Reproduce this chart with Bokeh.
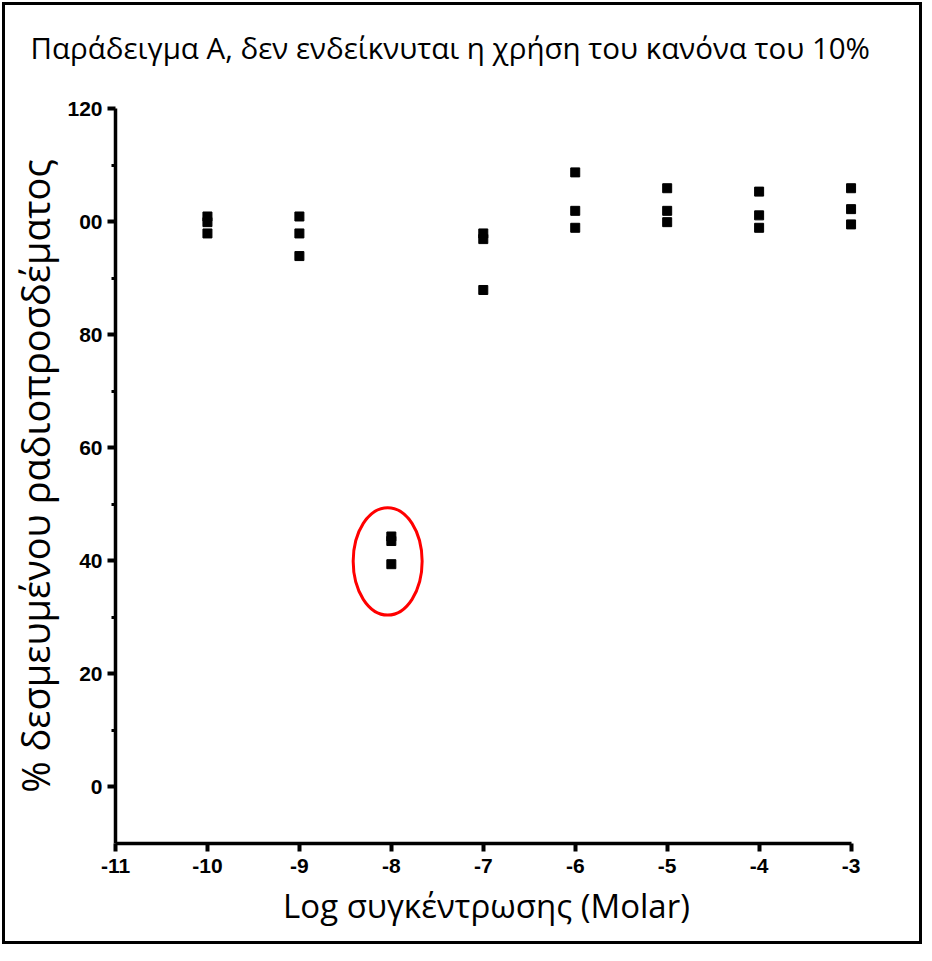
from bokeh.plotting import figure
from bokeh.models import Range1d, FixedTicker, ColumnDataSource, Title
from bokeh.embed import file_html
from bokeh.resources import INLINE

# ---- data ----
log_conc = [-10, -10, -10, -9, -9, -9, -8, -8, -8, -7, -7, -7,
            -6, -6, -6, -5, -5, -5, -4, -4, -4, -3, -3, -3]
pct_bound = [100.9, 99.9, 97.9, 100.9, 97.9, 93.9, 44.3, 43.5, 39.4,
             97.9, 96.9, 87.9, 108.7, 101.9, 98.9, 105.9, 101.9, 99.9,
             105.3, 101.1, 98.9, 105.9, 102.2, 99.5]
outlier_x = [-8.04]
outlier_y = [39.9]
x_ticks = [-11, -10, -9, -8, -7, -6, -5, -4, -3]
x_tick_labels = {-11: "-11", -10: "-10", -9: "-9", -8: "-8", -7: "-7",
                 -6: "-6", -5: "-5", -4: "-4", -3: "-3"}
y_ticks = [0, 20, 40, 60, 80, 100, 120]
y_minor = [10, 30, 50, 70, 90, 110]
y_tick_labels = {0: "0", 20: "20", 40: "40", 60: "60", 80: "80", 100: "00", 120: "120"}

title_text = "Παράδειγμα Α, δεν ενδείκνυται η χρήση του κανόνα του 10%"
x_label = "Log συγκέντρωσης (Molar)"
y_label = "% δεσμευμένου ραδιοπροσδέματος"

p = figure(frame_width=742, frame_height=735,
           min_border_left=110, min_border_right=62,
           min_border_top=103, min_border_bottom=98,
           x_range=Range1d(-11, -2.93), y_range=Range1d(-10, 120),
           output_backend="svg", toolbar_location=None)

p.styles = {"border": "3px solid black", "margin-left": "2px", "margin-top": "2px"}

p.background_fill_color = "white"
p.border_fill_color = "white"
p.outline_line_color = None
p.xgrid.visible = False
p.ygrid.visible = False

# title: a small blank spacer next to the frame, the real title outside it
spacer = Title(text=" ", text_font_size="10px", standoff=5)
p.add_layout(spacer, "above")
main_title = Title(text=title_text, text_font="Open Sans", text_font_size="29.5px",
                   text_font_style="normal", text_color="black",
                   align="left", vertical_align="top", offset=-85, standoff=42)
p.add_layout(main_title, "above")

for ax in (p.xaxis[0], p.yaxis[0]):
    ax.axis_line_width = 3.5
    ax.axis_line_color = "black"
    ax.major_tick_line_width = 4
    ax.major_tick_line_color = "black"
    ax.major_tick_in = 0
    ax.major_tick_out = 8
    ax.major_label_text_font = "Liberation Sans"
    ax.major_label_text_font_style = "bold"
    ax.major_label_text_font_size = "21px"
    ax.major_label_text_color = "black"
    ax.axis_label_text_font = "Open Sans"
    ax.axis_label_text_font_style = "normal"
    ax.axis_label_text_color = "black"

p.xaxis[0].ticker = FixedTicker(ticks=x_ticks)
p.xaxis[0].bounds = (-11, -3)
p.xaxis[0].major_label_overrides = x_tick_labels
p.xaxis[0].minor_tick_line_color = None
p.xaxis[0].major_label_standoff = 7
p.xaxis[0].axis_label = x_label
p.xaxis[0].axis_label_text_font_size = "33px"
p.xaxis[0].axis_label_standoff = 7

p.yaxis[0].ticker = FixedTicker(ticks=y_ticks, minor_ticks=y_minor)
p.yaxis[0].bounds = (-10, 120)
p.yaxis[0].major_label_overrides = y_tick_labels
p.yaxis[0].minor_tick_in = 0
p.yaxis[0].minor_tick_out = 4
p.yaxis[0].minor_tick_line_width = 3
p.yaxis[0].minor_tick_line_color = "black"
p.yaxis[0].major_label_standoff = 5
p.yaxis[0].axis_label = y_label
p.yaxis[0].axis_label_text_font_size = "38px"
p.yaxis[0].axis_label_standoff = 3

src = ColumnDataSource(dict(x=log_conc, y=pct_bound))
p.scatter("x", "y", source=src, marker="square", size=9,
          fill_color="black", line_color="black")

p.ellipse(x=outlier_x, y=outlier_y, width=0.75, height=19,
          fill_color=None, line_color="red", line_width=3)

open("out.html", "w").write(file_html(p, INLINE))
